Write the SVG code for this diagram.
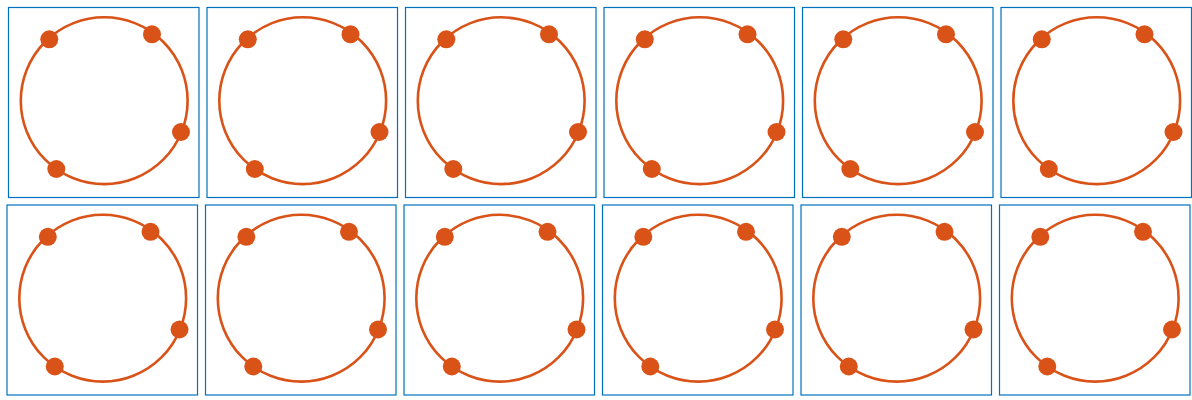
<svg xmlns="http://www.w3.org/2000/svg" width="1192" height="400" viewBox="0 0 1192 400">
<defs>
<style>
.box{fill:#fff;stroke:#0072BD;stroke-width:1.2}
.ring{fill:none;stroke:#D95319;stroke-width:2.6}
.dot{fill:#D95319}
</style>
<g id="panel">
<rect class="box" x="0" y="0" width="190.5" height="190"/>
<circle class="ring" cx="95.7" cy="93.2" r="83.4"/>
<circle class="dot" cx="40.8" cy="31.8" r="9"/>
<circle class="dot" cx="143.5" cy="26.8" r="9"/>
<circle class="dot" cx="172.5" cy="124.5" r="9"/>
<circle class="dot" cx="47.8" cy="161.5" r="9"/>
</g>
</defs>
<rect width="1192" height="400" fill="#fff"/>
<g id="connectors"></g>
<g id="p1"><use href="#panel" x="8.5" y="7.5"/></g>
<g id="p2"><use href="#panel" x="207" y="7.5"/></g>
<g id="p3"><use href="#panel" x="405.5" y="7.5"/></g>
<g id="p4"><use href="#panel" x="604" y="7.5"/></g>
<g id="p5"><use href="#panel" x="802.5" y="7.5"/></g>
<g id="p6"><use href="#panel" x="1001" y="7.5"/></g>
<g id="p7"><use href="#panel" x="7" y="205"/></g>
<g id="p8"><use href="#panel" x="205.5" y="205"/></g>
<g id="p9"><use href="#panel" x="404" y="205"/></g>
<g id="p10"><use href="#panel" x="602.5" y="205"/></g>
<g id="p11"><use href="#panel" x="801" y="205"/></g>
<g id="p12"><use href="#panel" x="999.5" y="205"/></g>
</svg>
